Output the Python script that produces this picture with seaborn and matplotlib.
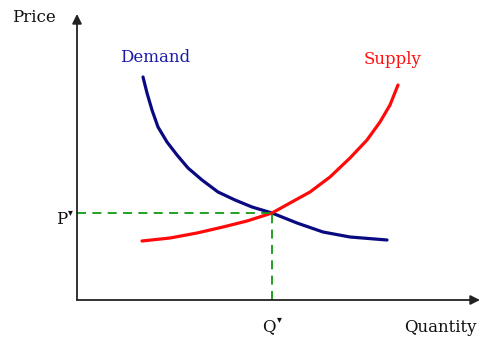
import matplotlib.pyplot as plt
import seaborn as sns
import pandas as pd

# values (quantity, price), origin at the axis corner
demand_q = [66, 70, 75, 81, 90, 100, 111, 125, 141, 158, 175, 195, 220, 246, 273, 310]
demand_p = [223, 207, 190, 173, 158, 145, 132, 120, 108, 100, 93, 87, 77, 68, 63, 60]
supply_q = [65, 93, 120, 146, 170, 195, 213, 233, 253, 273, 290, 303, 313, 321]
supply_p = [59, 62, 67, 73, 79, 87, 97, 108, 123, 142, 160, 178, 195, 215]
eq_q, eq_p = 195, 87

demand = pd.DataFrame({"q": demand_q, "p": demand_p})
supply = pd.DataFrame({"q": supply_q, "p": supply_p})

sns.set_style("white")
plt.rcParams["font.family"] = ["DejaVu Serif"]

fig = plt.figure(figsize=(4.81, 3.38), dpi=100)
ax = fig.add_axes([0, 0, 1, 1])
ax.set_xlim(-77, 404)
ax.set_ylim(-38, 300)
ax.axis("off")

sns.lineplot(data=demand, x="q", y="p", ax=ax, color="#0a0a80", lw=2.3, sort=False)
sns.lineplot(data=supply, x="q", y="p", ax=ax, color="#ff0a0a", lw=2.3, sort=False)

# equilibrium guides
ax.plot([0, eq_q], [eq_p, eq_p], color="#119911", lw=1.3, ls=(0, (5, 3.5)))
ax.plot([eq_q, eq_q], [0, eq_p], color="#119911", lw=1.3, ls=(0, (5, 3.5)))

# axes with arrows
arrow = dict(arrowstyle="-|>", color="#222222", lw=1.3, mutation_scale=14, shrinkA=0, shrinkB=0)
ax.annotate("", xy=(0, 286), xytext=(0, 0), arrowprops=arrow)
ax.annotate("", xy=(403, 0), xytext=(0, 0), arrowprops=arrow)

fs = 12
ax.text(-65, 282, "Price", fontsize=fs, ha="left", va="center", color="#111111")
ax.text(363, -27, "Quantity", fontsize=fs, ha="center", va="center", color="#111111")
ax.text(78, 242, "Demand", fontsize=fs, ha="center", va="center", color="#1a1aa8")
ax.text(316, 240, "Supply", fontsize=fs, ha="center", va="center", color="#ff1010")
ax.text(-10, 80, "P", fontsize=fs, ha="right", va="center", color="#111111")
ax.text(-9, 88, "\u25be", fontsize=7, ha="left", va="center", color="#111111",
        family=["DejaVu Sans"])
ax.text(eq_q - 3, -27, "Q", fontsize=fs, ha="center", va="center", color="#111111")
ax.text(eq_q + 5, -19, "\u25be", fontsize=7, ha="left", va="center", color="#111111",
        family=["DejaVu Sans"])

fig.savefig("out.png", dpi=100)
